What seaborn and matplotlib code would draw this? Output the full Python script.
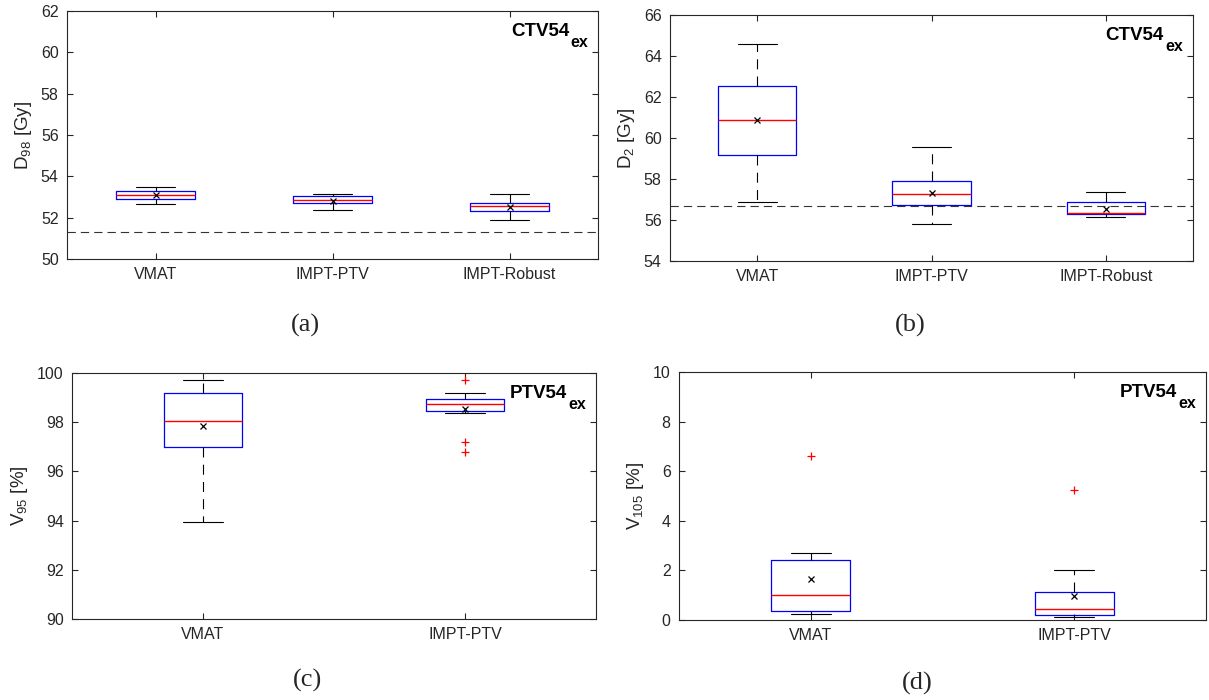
"""Boxplots of dose metrics (VMAT vs IMPT) in four panels"""

import matplotlib
matplotlib.use("Agg")
import matplotlib.pyplot as plt
import seaborn as sns

# --- data (box summaries) ---
groups3 = ["VMAT", "IMPT-PTV", "IMPT-Robust"]
groups2 = ["VMAT", "IMPT-PTV"]

# (a) D98 CTV54ex
d98_lo = [52.66, 52.35, 51.88]
d98_q1 = [52.90, 52.69, 52.34]
d98_med = [53.11, 52.87, 52.56]
d98_q3 = [53.27, 53.03, 52.71]
d98_hi = [53.46, 53.14, 53.14]
d98_mean = [53.09, 52.83, 52.53]
d98_out = [[], [], []]
d98_ref = 51.3

# (b) D2 CTV54ex
d2_lo = [56.89, 55.81, 56.17]
d2_q1 = [59.15, 56.72, 56.27]
d2_med = [60.86, 57.28, 56.36]
d2_q3 = [62.56, 57.91, 56.89]
d2_hi = [64.57, 59.58, 57.39]
d2_mean = [60.86, 57.34, 56.55]
d2_out = [[], [], []]
d2_ref = 56.69

# (c) V95 PTV54ex
v95_lo = [93.95, 98.39]
v95_q1 = [97.00, 98.47]
v95_med = [98.05, 98.72]
v95_q3 = [99.17, 98.95]
v95_hi = [99.73, 99.18]
v95_mean = [97.85, 98.54]
v95_out = [[], [99.73, 97.19, 96.78]]

# (d) V105 PTV54ex
v105_lo = [0.23, 0.11]
v105_q1 = [0.36, 0.19]
v105_med = [1.02, 0.43]
v105_q3 = [2.40, 1.13]
v105_hi = [2.72, 2.03]
v105_mean = [1.66, 0.98]
v105_out = [[6.62], [5.25]]

sns.set_style("ticks", {"xtick.direction": "in", "ytick.direction": "in",
                        "axes.edgecolor": "#262626"})
plt.rcParams["font.family"] = ["Liberation Sans", "DejaVu Sans"]
plt.rcParams["mathtext.fontset"] = "custom"
plt.rcParams["mathtext.rm"] = "Liberation Sans"
plt.rcParams["mathtext.it"] = "Liberation Sans:italic"
plt.rcParams["mathtext.bf"] = "Liberation Sans:bold"

W, H = 1209, 700
fig = plt.figure(figsize=(W / 100, H / 100), dpi=100)


def px_axes(l, r, t, b):
    ax = fig.add_axes([l / W, 1 - b / H, (r - l) / W, (b - t) / H])
    return ax, r - l, b - t


def stats(labels, lo, q1, med, q3, hi, mean, out):
    res = []
    for i, lab in enumerate(labels):
        res.append(dict(label=lab, whislo=lo[i], q1=q1[i], med=med[i],
                        q3=q3[i], whishi=hi[i], mean=mean[i], fliers=out[i]))
    return res


def draw(axinfo, st, width, ylim, yticks, ylabel, tag, ref=None):
    ax, w, h = axinfo
    n = len(st)
    pos = list(range(1, n + 1))
    ax.bxp(st, positions=pos, widths=width, showmeans=True,
           boxprops=dict(color="blue", lw=0.9),
           medianprops=dict(color="red", lw=1.0),
           whiskerprops=dict(color="black", lw=0.8, linestyle=(0, (9, 6.5))),
           capprops=dict(color="black", lw=0.8),
           meanprops=dict(marker="x", markeredgecolor="black", markersize=3.8,
                          markeredgewidth=0.9),
           flierprops=dict(marker="+", markeredgecolor="red", markersize=6,
                           markeredgewidth=0.9, linestyle="none"))
    if ref is not None:
        ax.axhline(ref, color="#333333", lw=0.8, linestyle=(0, (7.5, 4.5)), zorder=3)
    ax.set_xlim(0.5, n + 0.5)
    ax.set_ylim(*ylim)
    ax.set_yticks(yticks)
    ax.set_xticks(pos)
    ax.set_xticklabels([s["label"] for s in st])
    ax.tick_params(axis="both", which="both", direction="in", top=True, right=True,
                   length=4, width=0.8, labelsize=11.5, colors="#262626", pad=6)
    for sp in ax.spines.values():
        sp.set_color("#262626")
        sp.set_linewidth(0.8)
    ax.set_ylabel(ylabel, fontsize=13.5, color="#262626", labelpad=5)
    # structure name with subscript, top right corner
    main = ax.text(1 - 29 / w, 1 - 25 / h, tag, transform=ax.transAxes,
                   ha="right", va="baseline", fontsize=13.5, weight="bold",
                   color="black")
    ax.annotate("ex", xy=(1, 0), xycoords=main, xytext=(1.2, -4.8),
                textcoords="offset points", ha="left", va="baseline",
                fontsize=11.5, weight="bold", color="black")


ax_a = px_axes(67, 598, 11, 259)
draw(ax_a, stats(groups3, d98_lo, d98_q1, d98_med, d98_q3, d98_hi, d98_mean, d98_out),
     0.45, (50, 62), range(50, 63, 2), r"D$_{98}$ [Gy]", "CTV54", d98_ref)

ax_b = px_axes(670, 1193, 15, 261)
draw(ax_b, stats(groups3, d2_lo, d2_q1, d2_med, d2_q3, d2_hi, d2_mean, d2_out),
     0.45, (54, 66), range(54, 67, 2), r"D$_{2}$ [Gy]", "CTV54", d2_ref)

ax_c = px_axes(72, 596, 373, 619)
draw(ax_c, stats(groups2, v95_lo, v95_q1, v95_med, v95_q3, v95_hi, v95_mean, v95_out),
     0.3, (90, 100), range(90, 101, 2), r"V$_{95}$ [%]", "PTV54")

ax_d = px_axes(679, 1206, 372, 620)
draw(ax_d, stats(groups2, v105_lo, v105_q1, v105_med, v105_q3, v105_hi, v105_mean, v105_out),
     0.3, (0, 10), range(0, 11, 2), r"V$_{105}$ [%]", "PTV54")

# panel letters
for x, y, s in [(305, 325, "(a)"), (910, 325, "(b)"), (307, 680, "(c)"), (917, 683, "(d)")]:
    fig.text(x / W, 1 - y / H, s, ha="center", va="center", fontsize=19,
             family=["Liberation Serif", "DejaVu Serif"])

fig.savefig("out.png", dpi=100)
